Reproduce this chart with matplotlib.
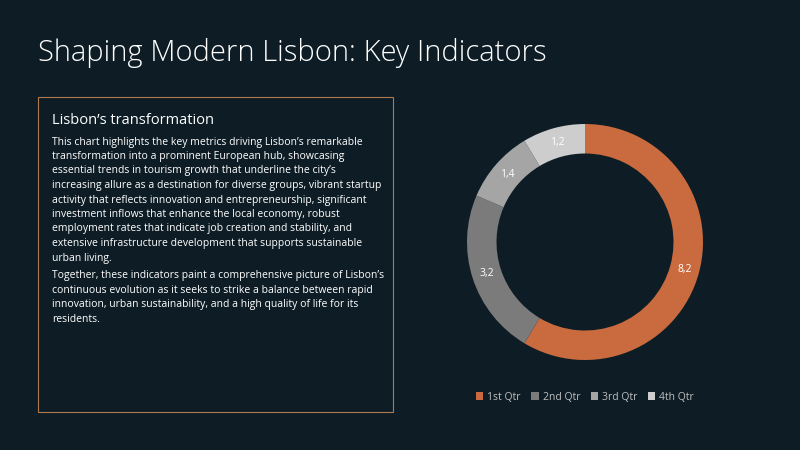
import matplotlib
matplotlib.use("Agg")
import matplotlib.pyplot as plt
from matplotlib.patches import Rectangle
import numpy as np

labels = ["1st Qtr", "2nd Qtr", "3rd Qtr", "4th Qtr"]
values = [8.2, 3.2, 1.4, 1.2]
colors = ["#c96b3e", "#7b7b7b", "#a5a5a5", "#cdcdcd"]
bg = "#0e1d25"

plt.rcParams['font.family'] = ['Open Sans', 'DejaVu Sans']
fig = plt.figure(figsize=(8, 4.5), dpi=100, facecolor=bg)

fig.text(38/800, 1-53/450, "Shaping Modern Lisbon: Key Indicators", color="white",
         fontsize=21, va="center", ha="left", fontweight="light")

fig.patches.append(Rectangle((38/800, 1-412/450), 355/800, 315/450, transform=fig.transFigure,
                             fill=False, edgecolor="#b07a4e", linewidth=0.8))
fig.text(52/800, 1-120/450, "Lisbon’s transformation", color="white", fontsize=10.5, va="center")
para1 = ["This chart highlights the key metrics driving Lisbon’s remarkable",
         "transformation into a prominent European hub, showcasing",
         "essential trends in tourism growth that underline the city’s",
         "increasing allure as a destination for diverse groups, vibrant startup",
         "activity that reflects innovation and entrepreneurship, significant",
         "investment inflows that enhance the local economy, robust",
         "employment rates that indicate job creation and stability, and",
         "extensive infrastructure development that supports sustainable",
         "urban living."]
para2 = ["Together, these indicators paint a comprehensive picture of Lisbon’s",
         "continuous evolution as it seeks to strike a balance between rapid",
         "innovation, urban sustainability, and a high quality of life for its",
         "residents."]
y = 142
for line in para1:
    fig.text(52/800, 1-y/450, line, color="white", fontsize=7.5, va="center")
    y += 14.5
y += 3
for line in para2:
    fig.text(52/800, 1-y/450, line, color="white", fontsize=7.5, va="center")
    y += 14.5

R = 118
ax = fig.add_axes([(585-R)/800, 1-(242+R)/450, 2*R/800, 2*R/450])
ax.set_facecolor(bg)
wedges, texts = ax.pie(values, colors=colors, startangle=90, counterclock=False,
                       wedgeprops=dict(width=0.25, edgecolor="none"), radius=1)
ang = 90.0
tot = sum(values)
for v in values:
    span = 360 * v / tot
    mid = np.deg2rad(ang - span / 2)
    ax.text(0.875*np.cos(mid), 0.875*np.sin(mid), f"{v}".replace(".", ","),
            color="white", fontsize=7.5, ha="center", va="center")
    ang -= span
ax.set_xlim(-1, 1)
ax.set_ylim(-1, 1)
ax.set_aspect("equal")
ax.axis("off")

fig.legend(wedges, labels, loc="center", bbox_to_anchor=(585/800, 1-397/450), ncol=4,
           frameon=False, fontsize=7.5, labelcolor="#bfbfbf", handlelength=0.7,
           handleheight=0.7, handletextpad=0.4, columnspacing=1.0)

fig.savefig("out.png", facecolor=bg)
